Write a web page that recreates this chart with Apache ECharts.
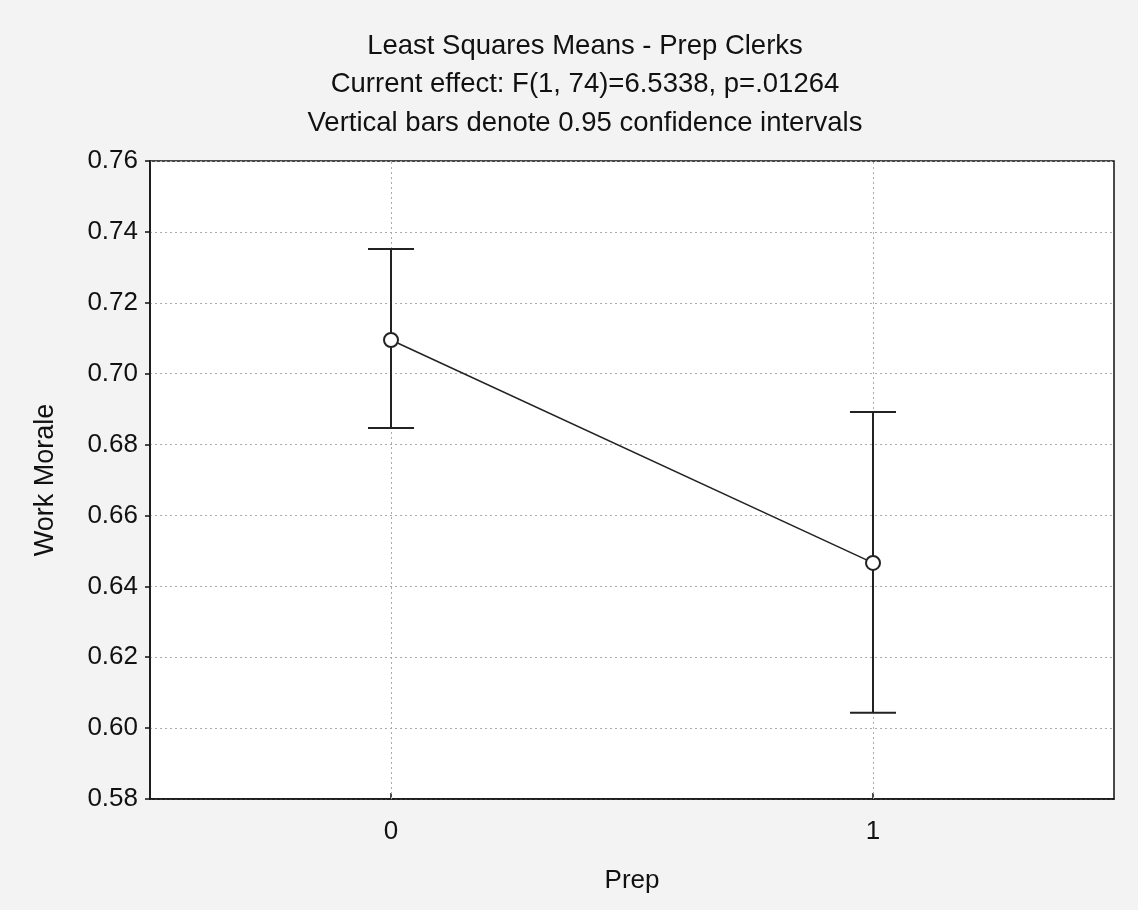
<!DOCTYPE html>
<html>
<head>
<meta charset="utf-8">
<script src="https://cdn.jsdelivr.net/npm/echarts@6/dist/echarts.min.js"></script>
<style>
html,body{margin:0;padding:0;background:#f3f3f3;}
#chart{width:1138px;height:910px;}
</style>
</head>
<body>
<div id="chart"></div>
<script>
var categories = ['0', '1'];
var means = [0.7095, 0.6466];
var upper = [0.7352, 0.6892];
var lower = [0.6847, 0.6043];
var titleLines = ['Least Squares Means - Prep Clerks', 'Current effect: F(1, 74)=6.5338, p=.01264', 'Vertical bars denote 0.95 confidence intervals'];
var xName = 'Prep';
var yName = 'Work Morale';

var errData = categories.map(function (c, i) { return [i, lower[i], upper[i]]; });
var font = 'Liberation Sans, Arial, sans-serif';

var chart = echarts.init(document.getElementById('chart'));
chart.setOption({
  backgroundColor: '#f3f3f3',
  animation: false,
  title: {
    text: titleLines.join('\n'),
    left: 580,
    textAlign: 'center',
    top: 22,
    textStyle: { fontFamily: font, fontSize: 27.5, fontWeight: 'normal', color: '#111', lineHeight: 38.5 }
  },
  grid: {
    left: 150, right: 24, top: 161, bottom: 111,
    show: true, backgroundColor: '#ffffff', borderColor: '#111', borderWidth: 1.5
  },
  xAxis: {
    type: 'category',
    data: categories,
    name: xName,
    nameLocation: 'middle',
    nameGap: 69,
    nameTextStyle: { fontFamily: font, fontSize: 26, color: '#111' },
    axisLine: { show: true, lineStyle: { color: '#111', width: 1.5 } },
    axisTick: { show: true, alignWithLabel: true, inside: true, length: 6, lineStyle: { color: '#111', width: 1.5 } },
    axisLabel: { fontFamily: font, fontSize: 26, color: '#111', margin: 20 },
    splitLine: { show: false }
  },
  yAxis: {
    type: 'value',
    min: 0.58, max: 0.76, interval: 0.02,
    name: yName,
    nameLocation: 'middle',
    nameGap: 91,
    nameTextStyle: { fontFamily: font, fontSize: 27, color: '#111' },
    axisLine: { show: true, lineStyle: { color: '#111', width: 1.5 } },
    axisTick: { show: true, inside: false, length: 5, lineStyle: { color: '#111', width: 1.5 } },
    axisLabel: { fontFamily: font, fontSize: 26, color: '#111', margin: 12, formatter: function (v) { return v.toFixed(2); } },
    splitLine: { show: true, lineStyle: { color: '#aaa', type: [2, 3], width: 1 } }
  },
  series: [
    {
      type: 'custom',
      z: 3,
      data: errData,
      renderItem: function (params, api) {
        var x = api.value(0);
        var lo = api.coord([x, api.value(1)]);
        var hi = api.coord([x, api.value(2)]);
        var hw = 23;
        var style = { stroke: '#222', lineWidth: 2, fill: null };
        return {
          type: 'group',
          children: [
            { type: 'line', shape: { x1: lo[0], y1: lo[1], x2: hi[0], y2: hi[1] }, style: style },
            { type: 'line', shape: { x1: lo[0] - hw, y1: lo[1], x2: lo[0] + hw, y2: lo[1] }, style: style },
            { type: 'line', shape: { x1: hi[0] - hw, y1: hi[1], x2: hi[0] + hw, y2: hi[1] }, style: style }
          ]
        };
      }
    },
    {
      type: 'line',
      z: 4,
      data: means,
      symbol: 'circle',
      symbolSize: 14,
      itemStyle: { color: '#ffffff', borderColor: '#222', borderWidth: 2 },
      lineStyle: { color: '#222', width: 1.5 },
      markLine: {
        silent: true,
        symbol: 'none',
        label: { show: false },
        lineStyle: { color: '#aaa', type: [2, 3], width: 1 },
        data: categories.map(function (c) { return { xAxis: c }; }),
        z: 1
      }
    }
  ]
});
</script>
</body>
</html>
